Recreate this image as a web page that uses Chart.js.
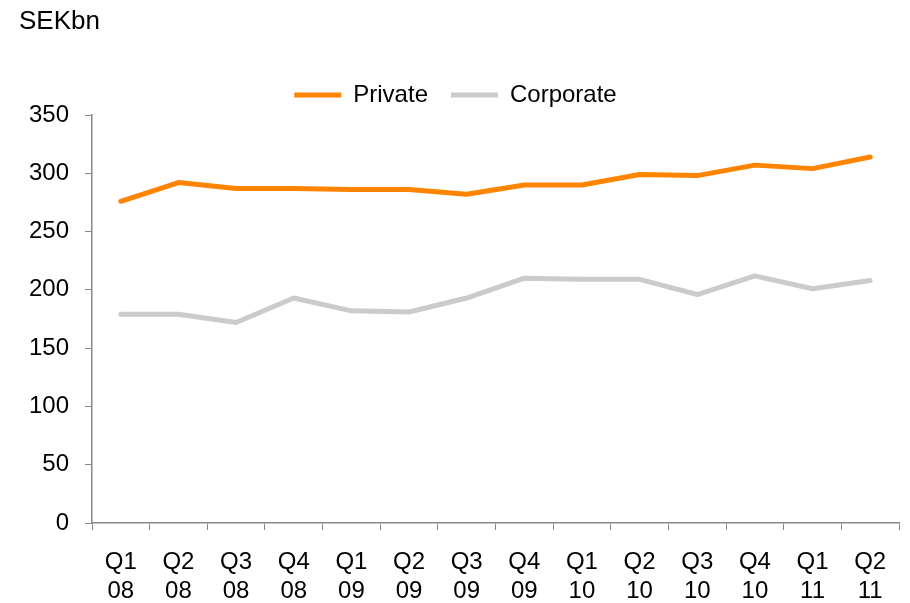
<!DOCTYPE html>
<html>
<head>
<meta charset="utf-8">
<script src="https://cdn.jsdelivr.net/npm/chart.js@4/dist/chart.umd.min.js"></script>
<style>
  html, body { margin: 0; padding: 0; background: #fff; }
  #wrap { position: relative; width: 910px; height: 603px; }
  #unit {
    position: absolute; left: 19px; top: 7px;
    font: 26px "Liberation Sans", Arial, sans-serif; line-height: 26px; color: #000;
  }
</style>
</head>
<body>
<div id="wrap">
  <canvas id="volumeChart" width="910" height="603"></canvas>
  <div id="unit">SEKbn</div>
</div>
<script>
const quarters = [
  ["Q1", "08"], ["Q2", "08"], ["Q3", "08"], ["Q4", "08"],
  ["Q1", "09"], ["Q2", "09"], ["Q3", "09"], ["Q4", "09"],
  ["Q1", "10"], ["Q2", "10"], ["Q3", "10"], ["Q4", "10"],
  ["Q1", "11"], ["Q2", "11"],
];
const privateVolume = [276, 292, 287, 287, 286, 286, 282, 290, 290, 299, 298, 307, 304, 314];
const corporateVolume = [179, 179, 172, 193, 182, 181, 193, 210, 209, 209, 196, 212, 201, 208];
const yTicks = [0, 50, 100, 150, 200, 250, 300, 350];

const font = { family: "'Liberation Sans', Arial, sans-serif", size: 24 };
const axisGrey = "#888888";

// wider gap between legend items without pushing the plot down
const legendSpacing = {
  id: "legendSpacing",
  beforeInit(chart) {
    const fit = chart.legend.fit;
    chart.legend.fit = function () {
      fit.call(this);
      this.height -= 2;
    };
  },
};

const ctx = document.getElementById("volumeChart").getContext("2d");

let lineChart = new Chart(ctx, {
  type: "line",
  data: {
    labels: quarters,
    datasets: [
      {
        label: "Private",
        data: privateVolume,
        borderColor: "#ff8400",
        backgroundColor: "#ff8400",
        borderWidth: 5,
        borderCapStyle: "round",
        borderJoinStyle: "round",
        pointRadius: 0,
        tension: 0,
      },
      {
        label: "Corporate",
        data: corporateVolume,
        borderColor: "#cdcbc9",
        backgroundColor: "#cdcbc9",
        borderWidth: 5,
        borderCapStyle: "round",
        borderJoinStyle: "round",
        pointRadius: 0,
        tension: 0,
      },
    ],
  },
  plugins: [legendSpacing],
  options: {
    responsive: false,
    animation: false,
    layout: { padding: { top: 60, right: 11, left: 12, bottom: 0 } },
    plugins: {
      legend: {
        position: "top",
        labels: {
          usePointStyle: true,
          pointStyle: "line",
          pointStyleWidth: 47,
          padding: 23,
          color: "#000",
          font: font,
        },
      },
      tooltip: { enabled: false },
    },
    scales: {
      x: {
        offset: true,
        grid: {
          offset: true,
          drawOnChartArea: false,
          color: axisGrey,
          tickLength: 7,
        },
        border: { color: axisGrey, width: 1.5 },
        ticks: {
          color: "#000",
          font: font,
          padding: 18,
          maxRotation: 0,
          autoSkip: false,
        },
        afterFit: (scale) => { scale.height = 80; },
      },
      y: {
        min: 0,
        max: 350,
        afterBuildTicks: (scale) => { scale.ticks = yTicks.map((v) => ({ value: v })); },
        grid: {
          drawOnChartArea: false,
          color: axisGrey,
          tickLength: 7,
        },
        border: { color: axisGrey, width: 1.5 },
        ticks: {
          color: "#000",
          font: font,
          padding: 16,
        },
        afterFit: (scale) => { scale.width = 80; },
      },
    },
  },
});
</script>
</body>
</html>
